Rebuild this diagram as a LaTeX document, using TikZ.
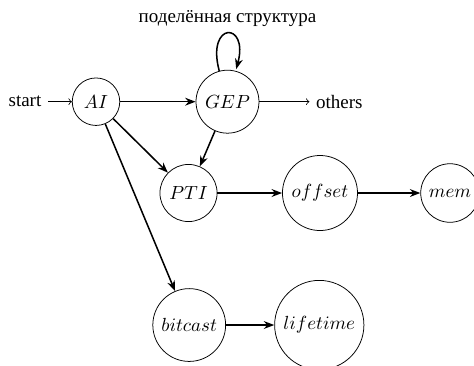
\documentclass[tikz,border=0pt]{standalone}
\usepackage{fontspec}
\setmainfont{Liberation Serif}
\usepackage{amsmath}
\usetikzlibrary{positioning,arrows.meta}

\begin{document}
\begin{tikzpicture}[->, >={Stealth[length=5.5pt]}, main/.style = {circle, draw, fill=none, minimum size=2.5em}, every edge/.append style={thick}]
\useasboundingbox (0,0) rectangle (8.768,-6.752);

\node[main] (AI) at (1.776,-1.881) {$AI$};
\node[main] (GEP) at (4.208,-1.881) {$GEP$};
\node[main] (PTI) at (3.487,-3.570) {$PTI$};
\node[main] (offset) at (5.919,-3.570) {$offset$};
\node[main] (mem) at (8.324,-3.570) {$mem$};
\node[main] (bitcast) at (3.500,-6.012) {$bitcast$};
\node[main] (lifetime) at (5.906,-6.012) {$lifetime$};

\node (start) at (0.462,-1.881) {start};
\node (others) at (6.277,-1.881) {others};

%thin in/out arrows
\draw[-to] (start) -- (AI);
\draw[-to] (GEP) -- (others);

\path 
    (AI) edge (GEP)
    (AI) edge (PTI)
    (AI) edge (bitcast)
    (GEP) edge (PTI)
    (GEP) edge[loop above] node[above] {поделённая структура} (GEP)
    (PTI) edge (offset)
    (offset) edge (mem)
    (bitcast) edge (lifetime);
\end{tikzpicture}
\end{document}
